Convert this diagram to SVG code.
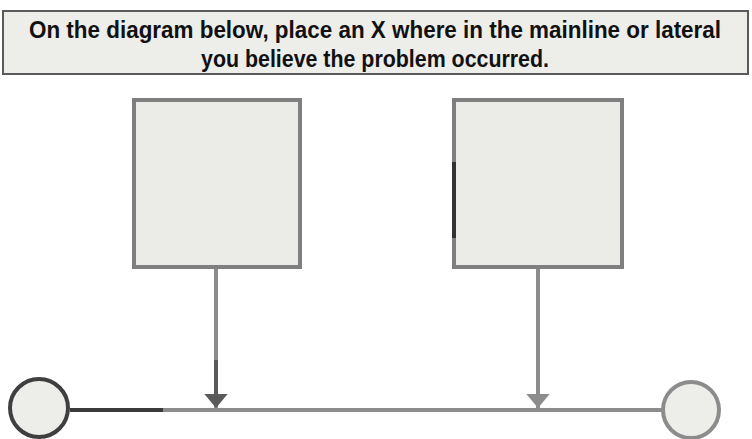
<svg xmlns="http://www.w3.org/2000/svg" width="752" height="439" viewBox="0 0 752 439">
<style>
.box{fill:#ebebe8;stroke:#7f7f7f;stroke-width:4}
.conn{stroke:#8c8c8c;stroke-width:4;fill:none}
.title{font-family:"Liberation Sans",Arial,sans-serif;font-weight:bold;font-size:23px;fill:#111;text-anchor:middle}
</style>
<defs>
<marker id="arr" viewBox="0 0 6 10" refX="6" refY="5" markerWidth="3.6" markerHeight="6" markerUnits="strokeWidth" orient="auto">
<path d="M0,0 L6,5 L0,10 z" fill="#8c8c8c"/>
</marker>
<marker id="arrDark" viewBox="0 0 6 10" refX="6" refY="5" markerWidth="3.6" markerHeight="6.5" markerUnits="strokeWidth" orient="auto">
<path d="M0,0 L6,5 L0,10 z" fill="#5a5a5a"/>
</marker>
</defs>
<rect width="752" height="439" fill="#ffffff"/>
<g id="title">
<rect x="3" y="11" width="745" height="63" fill="#ededea" stroke="#5a5a5a" stroke-width="2"/>
<text class="title" x="375" y="38" textLength="692" lengthAdjust="spacingAndGlyphs">On the diagram below, place an X where in the mainline or lateral</text>
<text class="title" x="375" y="67" textLength="348" lengthAdjust="spacingAndGlyphs">you believe the problem occurred.</text>
</g>
<g id="connectors">
<line class="conn" x1="70" y1="410" x2="662" y2="410"/>
<line x1="70" y1="410" x2="163" y2="410" stroke="#3a3a3a" stroke-width="4"/>
<line class="conn" x1="216" y1="268" x2="216" y2="408" marker-end="url(#arrDark)"/>
<line x1="216" y1="360" x2="216" y2="396" stroke="#5a5a5a" stroke-width="4"/>
<line class="conn" x1="538" y1="268" x2="538" y2="408" marker-end="url(#arr)"/>
</g>
<g id="box-left">
<rect class="box" x="134" y="100" width="166" height="167"/>
</g>
<g id="box-right">
<rect class="box" x="454" y="100" width="168" height="167"/>
<line x1="454" y1="162" x2="454" y2="238" stroke="#333" stroke-width="4"/>
</g>
<g id="circle-left">
<circle cx="39" cy="408" r="29" fill="#ededea" stroke="#3f3f3f" stroke-width="4"/>
</g>
<g id="circle-right">
<circle cx="691" cy="410" r="28" fill="#ededea" stroke="#8c8c8c" stroke-width="4"/>
</g>
</svg>
